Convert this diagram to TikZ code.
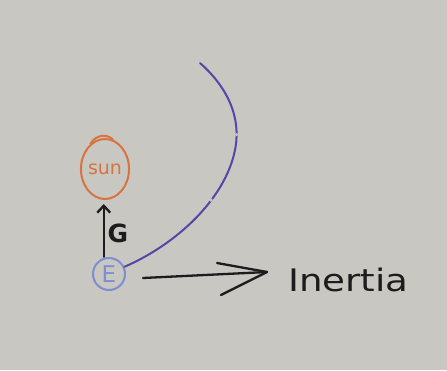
\documentclass[tikz,border=0pt]{standalone}
\usepackage{fontspec}
\usetikzlibrary{shapes.geometric,arrows.meta}
\newfontfamily\hand{DejaVu Sans}
\definecolor{board}{HTML}{C8C7C2}
\definecolor{sunc}{HTML}{D8733F}
\definecolor{earthc}{HTML}{7E8ED0}
\definecolor{orbitc}{HTML}{5A44A6}
\definecolor{ink}{HTML}{1C1C1C}
\tikzset{
  pen/.style={line width=2.3pt, line cap=round, line join=round},
  body/.style={draw, pen, inner sep=0pt},
}
\begin{document}
\begin{tikzpicture}[x=1pt,y=-1pt]
\fill[board] (0,0) rectangle (447,370);
\useasboundingbox (0,0) rectangle (447,370);
% Sun
\node[body, ellipse, draw=sunc, text=sunc, line width=2pt, minimum width=43pt, minimum height=60pt,
      font=\hand\fontsize{19}{19}\selectfont] (sun) at (105,169) {sun};
\draw[sunc, line width=2pt, line cap=round] (sun.120) .. controls (96,134) and (108,134) .. (sun.75);
% Earth
\node[body, circle, draw=earthc, text=earthc, line width=2pt, minimum size=32pt,
      font=\hand\fontsize{23}{23}\selectfont] (E) at (109,274) {E};
% Gravity arrow
\draw[ink, pen, -{Straight Barb[length=7pt,width=13pt]}, shorten <=1pt, shorten >=4pt] (E.108) -- (E.108 |- sun.south);
\node[ink, font=\hand\bfseries\fontsize{25}{25}\selectfont] (G) at (118,233) {G};
% Orbit
\coordinate (omid) at (235,150);
\coordinate (oend) at (200,63);
\draw[orbitc, line width=2pt, line cap=round] (E.25) .. controls (175,245) and (225,200) .. (omid)
      .. controls (242,115) and (225,85) .. (oend);
\fill[board] (211,200) circle (1.8pt);
\fill[board] (236.6,134.6) circle (1.6pt);
% Inertia arrow
\coordinate (istart) at (143,278);
\coordinate (itip) at (267,272);
\coordinate (ib1) at (217,263);
\coordinate (ib2) at (221,295);
\draw[ink, pen] (istart) -- (itip);
\draw[ink, pen] (ib1) -- (itip) -- (ib2);
\node[ink, anchor=base west, xscale=1.2, inner sep=0pt, font=\hand\fontsize{31}{31}\selectfont] (inertia) at (288,291) {Inertia};
\end{tikzpicture}
\end{document}
